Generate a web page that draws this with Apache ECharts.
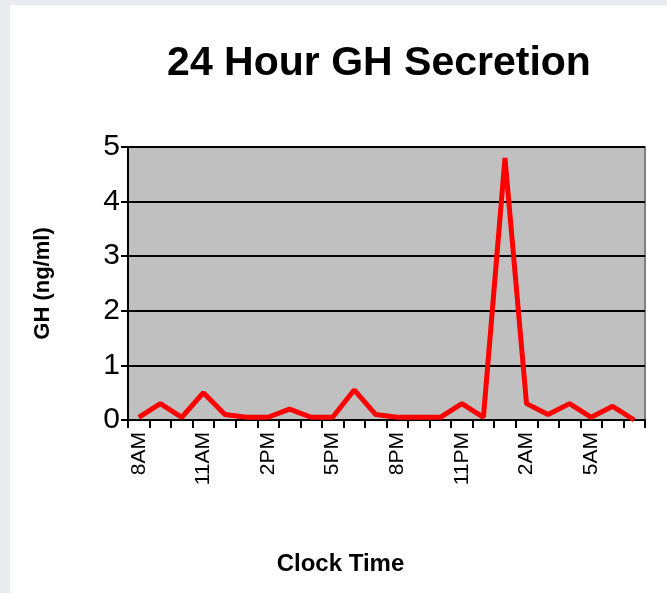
<!DOCTYPE html>
<html>
<head>
<meta charset="utf-8">
<script src="https://cdn.jsdelivr.net/npm/echarts@6/dist/echarts.min.js"></script>
<style>
  html, body { margin: 0; padding: 0; background: #e9ebee; }
  #chart { position: absolute; left: 10px; top: 5px; width: 657px; height: 588px; background: #ffffff; }
</style>
</head>
<body>
<div id="chart"></div>
<script>
// hourly samples, 8AM through 7AM
const hours = ['8AM', '9AM', '10AM', '11AM', '12PM', '1PM', '2PM', '3PM', '4PM', '5PM', '6PM', '7PM',
    '8PM', '9PM', '10PM', '11PM', '12AM', '1AM', '2AM', '3AM', '4AM', '5AM', '6AM', '7AM'];
const ghValues = [0.05, 0.3, 0.05, 0.5, 0.1, 0.05, 0.05, 0.2, 0.05, 0.05, 0.55, 0.1,
    0.05, 0.05, 0.05, 0.3, 0.05, 4.8, 0.3, 0.1, 0.3, 0.05, 0.25, 0.0];
const yTicks = [0, 1, 2, 3, 4, 5];

const chart = echarts.init(document.getElementById('chart'));
const font = 'Liberation Sans, Arial, sans-serif';

chart.setOption({
    animation: false,
    title: {
        text: '24 Hour GH Secretion',
        left: 364,
        top: 33,
        textAlign: 'center',
        textStyle: {fontFamily: font, fontSize: 41, fontWeight: 'bold', color: '#000'}
    },
    grid: {left: 118, right: 22, top: 142, bottom: 173, show: true,
        backgroundColor: '#c0c0c0', borderColor: '#808080', borderWidth: 2},
    xAxis: {
        type: 'category',
        data: hours,
        boundaryGap: true,
        name: 'Clock Time',
        nameLocation: 'middle',
        nameGap: 132,
        nameTextStyle: {fontFamily: font, fontSize: 24, fontWeight: 'bold', color: '#000',
            padding: [0, 92, 0, 0]},
        axisLine: {lineStyle: {color: '#000', width: 2}},
        axisTick: {show: true, interval: 0, length: 8, lineStyle: {color: '#000', width: 2}},
        axisLabel: {interval: 2, rotate: 90, fontFamily: font, fontSize: 21, color: '#000', margin: 12}
    },
    yAxis: {
        type: 'value',
        min: yTicks[0],
        max: yTicks[yTicks.length - 1],
        interval: 1,
        name: 'GH (ng/ml)',
        nameLocation: 'middle',
        nameGap: 74,
        nameTextStyle: {fontFamily: font, fontSize: 22, fontWeight: 'bold', color: '#000'},
        axisLine: {show: true, lineStyle: {color: '#000', width: 2}},
        axisTick: {show: true, length: 7, lineStyle: {color: '#000', width: 2}},
        axisLabel: {fontFamily: font, fontSize: 30, color: '#000', margin: 8},
        splitLine: {lineStyle: {color: '#000', width: 2}}
    },
    series: [{
        type: 'line',
        data: ghValues,
        symbol: 'none',
        lineStyle: {color: '#ff0000', width: 5}
    }]
});
</script>
</body>
</html>
